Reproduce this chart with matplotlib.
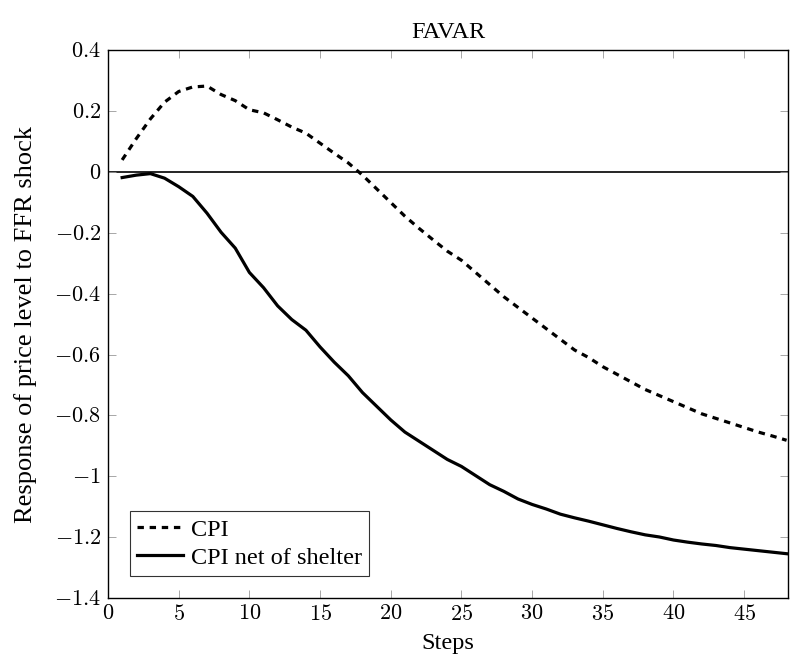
import numpy as np
import matplotlib.pyplot as plt

plt.rcParams['font.family'] = ['Liberation Serif', 'DejaVu Serif']
plt.rcParams['mathtext.fontset'] = 'cm'

# impulse responses
steps = np.arange(1, 49)
cpi = [0.04, 0.11, 0.175, 0.23, 0.265, 0.28, 0.283, 0.255, 0.235, 0.205,
       0.195, 0.172, 0.148, 0.128, 0.095, 0.062, 0.03, -0.01, -0.055, -0.10,
       -0.145, -0.185, -0.223, -0.26, -0.29, -0.33, -0.37, -0.41, -0.445, -0.48,
       -0.515, -0.55, -0.585, -0.61, -0.64, -0.665, -0.69, -0.715, -0.735, -0.755,
       -0.775, -0.795, -0.81, -0.825, -0.84, -0.855, -0.868, -0.882]
cpi_net = [-0.018, -0.01, -0.005, -0.02, -0.048, -0.08, -0.135, -0.198, -0.25, -0.33,
           -0.38, -0.44, -0.485, -0.52, -0.575, -0.625, -0.67, -0.725, -0.77, -0.815,
           -0.855, -0.885, -0.915, -0.945, -0.968, -0.998, -1.028, -1.05, -1.075, -1.093,
           -1.108, -1.125, -1.137, -1.148, -1.16, -1.172, -1.183, -1.193, -1.2, -1.21,
           -1.217, -1.223, -1.228, -1.235, -1.24, -1.245, -1.25, -1.255]

x_ticks = np.arange(0, 50, 5)
y_ticks = [-1.4, -1.2, -1.0, -0.8, -0.6, -0.4, -0.2, 0.0, 0.2, 0.4]
y_labels = ["-1.4", "-1.2", "-1", "-0.8", "-0.6", "-0.4", "-0.2", "0", "0.2", "0.4"]

fig = plt.figure(figsize=(7.93, 6.58), dpi=100)
ax = fig.add_axes([0.1362, 0.0915, 0.8575, 0.8318])

ax.axhline(0, color='black', lw=1.2, zorder=1)
ax.plot(steps, cpi, color='black', lw=2.3, linestyle=(0, (2.0, 1.8)), label='CPI')
ax.plot(steps, cpi_net, color='black', lw=2.3, label='CPI net of shelter')

ax.set_xlim(0, 48.1)
ax.set_ylim(-1.4, 0.4)
ax.set_xticks(x_ticks)
ax.set_xticklabels(["$%d$" % t for t in x_ticks])
ax.set_yticks(y_ticks)
ax.set_yticklabels(["$%s$" % s for s in y_labels])
ax.tick_params(direction='in', length=6, width=0.6, color='#999999',
               top=True, right=True, labelsize=16, pad=5)
for s in ax.spines.values():
    s.set_linewidth(1.0)

ax.set_title("FAVAR", fontsize=17.5, pad=9)
ax.set_xlabel("Steps", fontsize=17.5, labelpad=6)
ax.set_ylabel("Response of price level to FFR shock", fontsize=19, labelpad=12)

leg = ax.legend(loc='lower left', fontsize=17.5, frameon=True, fancybox=False,
                edgecolor='black', handlelength=1.9, handletextpad=0.3,
                borderpad=0.3, labelspacing=0.25, borderaxespad=0.9)
leg.get_frame().set_linewidth(0.8)

plt.savefig("out.png", dpi=100)
plt.close()
